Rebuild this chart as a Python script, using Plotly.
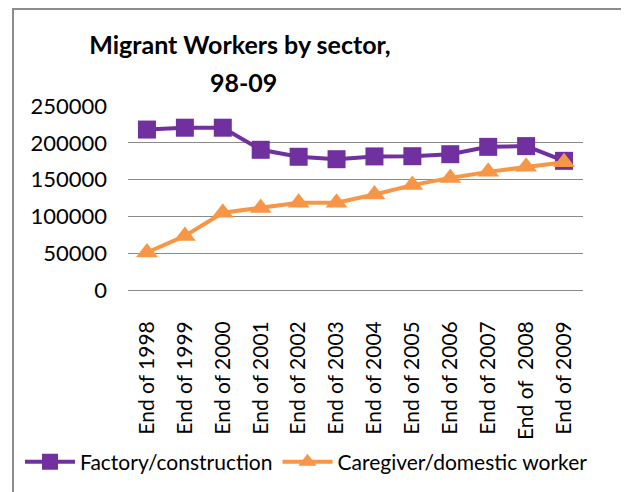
import plotly.graph_objects as go

categories = ["End of 1998", "End of 1999", "End of 2000", "End of 2001", "End of 2002",
              "End of 2003", "End of 2004", "End of 2005", "End of 2006", "End of 2007",
              "End of  2008", "End of 2009"]
factory = [218000, 220500, 220500, 190500, 181000, 177700, 181500, 181800, 184500, 194500, 195500, 175500]
caregiver = [51000, 73500, 105000, 111500, 118500, 118500, 129800, 142500, 152300, 160500, 167300, 173500]
y_ticks = [0, 50000, 100000, 150000, 200000, 250000]

# page body has an 8px default margin
OFF = 8
W, H = 629 - OFF, 492 - OFF
L, R, T, B = 128 - OFF, 583 - OFF, 106 - OFF, 290 - OFF

def px(x):
    return (x - OFF - L) / (R - L)

def py(y):
    return (B - (y - OFF)) / (B - T)

fig = go.Figure()
fig.add_trace(go.Scatter(
    x=categories, y=factory, name="Factory/construction", mode="lines+markers",
    line=dict(color="#7030A0", width=4),
    marker=dict(symbol="square", size=18, color="#7030A0"),
))
fig.add_trace(go.Scatter(
    x=categories, y=caregiver, name="Caregiver/domestic worker", mode="lines+markers",
    line=dict(color="#F79646", width=4),
    marker=dict(symbol="triangle-up", size=19, color="#F79646"),
))

font = "Lato, Carlito, Calibri, sans-serif"
fig.update_layout(
    width=W, height=H,
    margin=dict(l=L, r=W - R, t=T, b=H - B, autoexpand=False),
    paper_bgcolor="white", plot_bgcolor="white",
    font=dict(family=font, size=22, color="black"),
    title=dict(text="<b>Migrant Workers by sector,</b>", x=(240 - OFF) / W, xanchor="center",
               y=1 - (45 - OFF) / H, yanchor="middle", font=dict(size=25, family=font, color="black")),
    annotations=[dict(text="<b>98-09</b>", xref="paper", yref="paper",
                      x=px(243), y=py(82), xanchor="center", yanchor="middle",
                      showarrow=False, font=dict(size=25, family=font, color="black"))],
    showlegend=True,
    legend=dict(orientation="h", x=px(20), y=py(462), xanchor="left", yanchor="middle",
                font=dict(size=21), itemwidth=50, bgcolor="rgba(0,0,0,0)",
                tracegroupgap=0),
    xaxis=dict(type="category", range=[-0.5, 11.5], showgrid=False, showline=False,
               ticks="", tickangle=-90, tickfont=dict(size=21), ticklabelstandoff=26,
               fixedrange=True),
    yaxis=dict(range=[0, 250000], tickvals=y_ticks, ticktext=[str(v) for v in y_ticks],
               showgrid=True, gridcolor="#8a8a8a", gridwidth=1, zeroline=True,
               zerolinecolor="#8a8a8a", zerolinewidth=1, showline=False, ticks="",
               ticklabelstandoff=20, tickfont=dict(size=22)),
    shapes=[dict(type="rect", xref="paper", yref="paper",
                 x0=px(13), x1=px(625), y0=py(520), y1=py(9),
                 line=dict(color="#8c8c8c", width=2), layer="above")],
)

fig.write_html("out.html")
